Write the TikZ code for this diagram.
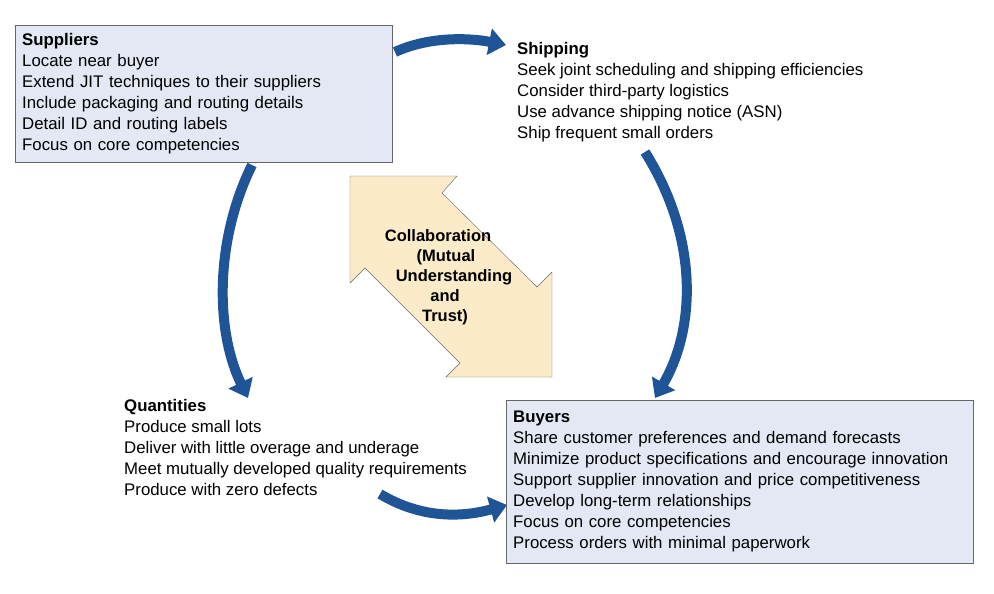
\documentclass[tikz,border=0pt]{standalone}
\usepackage{fontspec}
\setmainfont{Liberation Sans}
\usetikzlibrary{arrows.meta}
\definecolor{boxblue}{HTML}{E3E8F4}
\definecolor{flowblue}{HTML}{1F5596}
\definecolor{trustfill}{HTML}{FBEBC8}
\tikzset{
  box/.style={draw=gray!80!black,fill=boxblue,anchor=north west,align=left,inner xsep=7pt},
  plain/.style={anchor=north west,align=left,inner sep=0pt},
  flow/.style={flowblue,line width=10pt,-{Triangle[width=26pt,length=17pt]}},
}
\begin{document}
\begin{tikzpicture}[x=1pt,y=-1pt,font=\fontsize{16.8}{21}\selectfont]
\useasboundingbox (0,0) rectangle (994,594);
% the four groups
\node [box,inner ysep=8pt,text width=363pt] (suppliers) at (15,25)
  {\textbf{Suppliers}\\Locate near buyer\\Extend JIT techniques to their suppliers\\
   Include packaging and routing details\\Detail ID and routing labels\\Focus on core competencies};
\node [plain] (shipping) at (517,42)
  {\textbf{Shipping}\\Seek joint scheduling and shipping efficiencies\\Consider third-party logistics\\
   Use advance shipping notice (ASN)\\Ship frequent small orders};
\node [plain] (quantities) at (124,399)
  {\textbf{Quantities}\\Produce small lots\\Deliver with little overage and underage\\
   Meet mutually developed quality requirements\\Produce with zero defects};
\node [box,inner ysep=11pt,text width=453pt] (buyers) at (506,400)
  {\textbf{Buyers}\\Share customer preferences and demand forecasts\\
   Minimize product specifications and encourage innovation\\
   Support supplier innovation and price competitiveness\\
   Develop long-term relationships\\Focus on core competencies\\Process orders with minimal paperwork};
% the cycle
\coordinate (s out) at (395,52);
\coordinate (s in) at (506,45);
\coordinate (b top) at (655,398);
\coordinate (sh out) at (645,152);
\coordinate (q in) at (248,398);
\coordinate (su out) at (252,165);
\coordinate (q out) at (380,494);
\coordinate (b in) at (507,505);
\draw [flow] (s out) .. controls (430,36) and (470,38) .. (s in);
\draw [flow] (sh out) .. controls (700,240) and (695,330) .. (b top);
\draw [flow] (su out) .. controls (215,240) and (215,330) .. (q in);
\draw [flow] (q out) .. controls (420,518) and (460,518) .. (b in);
% collaboration arrow
\draw [draw=gray!80!black,fill=trustfill]
  (350,176) -- (457,176) -- (442,193) -- (537,287) -- (552,272) -- (552,377)
  -- (446,377) -- (460,363) -- (365,268) -- (350,283) -- cycle;
\node [align=center,font=\bfseries\fontsize{16.5}{20}\selectfont] (trust) at (438,277)
  {Collaboration\\\hspace*{16pt}(Mutual\\\hspace*{32pt}Understanding\\\hspace*{14pt}and\\\hspace*{14pt}Trust)};
\end{tikzpicture}
\end{document}
